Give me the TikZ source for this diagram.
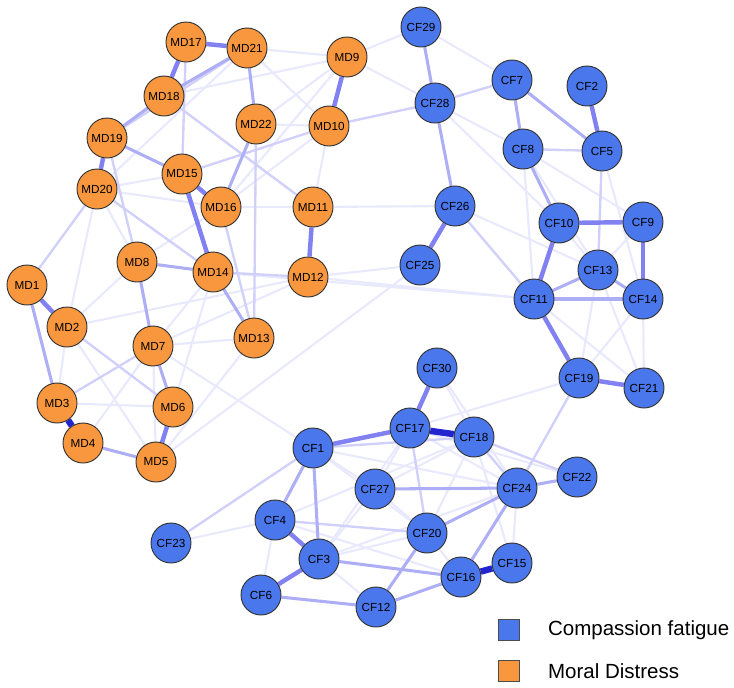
\documentclass[tikz,border=0pt]{standalone}
\usepackage{xcolor}
\usepackage{fontspec}
\setmainfont{Liberation Sans}
\usepackage{tikz}
\usetikzlibrary{positioning, backgrounds}
\definecolor{cfblue}{HTML}{4A78EC}
\definecolor{mdorange}{HTML}{F8973D}
\definecolor{edgeblue}{HTML}{6B6BEF}
\definecolor{edgedark}{HTML}{2323D0}

\begin{document}
\begin{tikzpicture}[
    x=0.03cm, y=-0.03cm,
    every node/.style={font=\fontsize{10}{12}\selectfont},
    itemnode/.style={circle, draw=black!80, fill=#1, line width=0.8pt, minimum size=1.2cm, inner sep=0pt},
    keybox/.style={rectangle, draw=black!70, fill=#1, line width=0.6pt, minimum size=0.63cm, inner sep=0pt},
    keytext/.style={inner sep=0pt, font=\fontsize{17.5}{20}\selectfont},
    wtop/.style={draw=edgedark, line width=5.5pt},
    wstrong/.style={draw=edgeblue!85, line width=3.8pt},
    wmid/.style={draw=edgeblue!55, line width=2.6pt},
    wlight/.style={draw=edgeblue!32, line width=2pt},
    wfaint/.style={draw=edgeblue!15, line width=1.8pt},
]
\useasboundingbox (0,0) rectangle (734,687);

% moral distress
\node[itemnode=mdorange] (MD17) at (186,42) {MD17};
\node[itemnode=mdorange] (MD21) at (247,48) {MD21};
\node[itemnode=mdorange] (MD9) at (347,57) {MD9};
\node[itemnode=mdorange] (MD18) at (164,96) {MD18};
\node[itemnode=mdorange] (MD22) at (256,124) {MD22};
\node[itemnode=mdorange] (MD10) at (329,126) {MD10};
\node[itemnode=mdorange] (MD19) at (107,138) {MD19};
\node[itemnode=mdorange] (MD15) at (182,174) {MD15};
\node[itemnode=mdorange] (MD20) at (97,189) {MD20};
\node[itemnode=mdorange] (MD16) at (221,207) {MD16};
\node[itemnode=mdorange] (MD11) at (313,207) {MD11};
\node[itemnode=mdorange] (MD8) at (137,262) {MD8};
\node[itemnode=mdorange] (MD14) at (213,272) {MD14};
\node[itemnode=mdorange] (MD12) at (308,277) {MD12};
\node[itemnode=mdorange] (MD1) at (27,285) {MD1};
\node[itemnode=mdorange] (MD2) at (67,327) {MD2};
\node[itemnode=mdorange] (MD7) at (153,346) {MD7};
\node[itemnode=mdorange] (MD13) at (254,338) {MD13};
\node[itemnode=mdorange] (MD3) at (57,403) {MD3};
\node[itemnode=mdorange] (MD6) at (173,407) {MD6};
\node[itemnode=mdorange] (MD4) at (83,443) {MD4};
\node[itemnode=mdorange] (MD5) at (156,462) {MD5};

% compassion fatigue
\node[itemnode=cfblue] (CF29) at (421,27) {CF29};
\node[itemnode=cfblue] (CF7) at (512,80) {CF7};
\node[itemnode=cfblue] (CF2) at (587,86) {CF2};
\node[itemnode=cfblue] (CF28) at (435,103) {CF28};
\node[itemnode=cfblue] (CF8) at (523,149) {CF8};
\node[itemnode=cfblue] (CF5) at (602,151) {CF5};
\node[itemnode=cfblue] (CF26) at (455,206) {CF26};
\node[itemnode=cfblue] (CF10) at (559,223) {CF10};
\node[itemnode=cfblue] (CF9) at (643,222) {CF9};
\node[itemnode=cfblue] (CF25) at (420,265) {CF25};
\node[itemnode=cfblue] (CF13) at (598,270) {CF13};
\node[itemnode=cfblue] (CF11) at (534,299) {CF11};
\node[itemnode=cfblue] (CF14) at (643,299) {CF14};
\node[itemnode=cfblue] (CF30) at (437,368) {CF30};
\node[itemnode=cfblue] (CF19) at (579,378) {CF19};
\node[itemnode=cfblue] (CF21) at (644,388) {CF21};
\node[itemnode=cfblue] (CF17) at (410,428) {CF17};
\node[itemnode=cfblue] (CF18) at (474,437) {CF18};
\node[itemnode=cfblue] (CF1) at (313,448) {CF1};
\node[itemnode=cfblue] (CF27) at (375,489) {CF27};
\node[itemnode=cfblue] (CF24) at (517,488) {CF24};
\node[itemnode=cfblue] (CF22) at (577,477) {CF22};
\node[itemnode=cfblue] (CF4) at (275,520) {CF4};
\node[itemnode=cfblue] (CF20) at (427,533) {CF20};
\node[itemnode=cfblue] (CF23) at (171,543) {CF23};
\node[itemnode=cfblue] (CF3) at (319,559) {CF3};
\node[itemnode=cfblue] (CF15) at (512,563) {CF15};
\node[itemnode=cfblue] (CF16) at (461,577) {CF16};
\node[itemnode=cfblue] (CF6) at (261,595) {CF6};
\node[itemnode=cfblue] (CF12) at (376,607) {CF12};

% legend
\node[keybox=cfblue] (keycf) at (509,630) {};
\node[keytext, right=0.84cm of keycf] (labcf) {Compassion fatigue};
\node[keybox=mdorange, below=0.57cm of keycf] (keymd) {};
\node[keytext, right=0.84cm of keymd] (labmd) {Moral Distress};

\begin{scope}[on background layer]
\foreach \a/\b in {MD21/MD9, MD21/MD10, MD9/MD22, MD9/MD18, MD9/MD16, MD10/MD16, MD10/MD11,
    MD10/MD22, MD15/MD20, MD20/MD16, MD20/MD2, MD8/MD16, MD2/MD3, MD2/MD5, MD2/MD12, MD7/MD5,
    MD7/MD14, MD7/MD12, MD7/MD13, MD7/CF1, MD7/MD4, MD3/MD6, MD5/MD13, MD6/MD14, MD12/CF11,
    MD12/CF25, MD11/CF26, MD5/CF25, MD21/MD20, MD11/MD16, MD8/MD20, MD8/MD2, MD14/CF11,
    CF29/MD9, CF28/MD9, CF29/CF7, CF28/CF10, CF28/CF8, CF26/CF13, CF8/CF11, CF8/CF9, CF8/CF13,
    CF5/CF14, CF10/CF13, CF9/CF13, CF13/CF19, CF14/CF21, CF13/CF21, CF11/CF21, CF14/CF19,
    CF19/CF17, CF30/CF24, CF30/CF18, CF1/CF27, CF1/CF20, CF1/CF24, CF17/CF27, CF17/CF24,
    CF17/CF3, CF18/CF27, CF18/CF20, CF18/CF15, CF18/CF4, CF27/CF3, CF27/CF20, CF24/CF15,
    CF24/CF3, CF20/CF16, CF20/CF3, CF4/CF16, CF3/CF12, CF6/CF4, CF23/CF4, CF17/CF22}
    \draw[wfaint] (\a) -- (\b);
\foreach \a/\b in {MD7/MD3, MD2/MD6, MD14/MD12, MD10/MD15, MD17/MD15, MD20/MD14, MD19/MD8,
    MD20/MD1, MD10/CF28, MD16/MD13, MD22/MD13, MD18/MD11, MD21/MD19, CF28/CF7, CF5/CF13,
    CF26/CF11, CF8/CF5, CF24/CF19, CF4/CF20, CF18/CF24, CF18/CF22, CF23/CF1, CF1/CF18,
    CF17/CF20}
    \draw[wlight] (\a) -- (\b);
\foreach \a/\b in {MD18/MD21, MD18/MD19, MD19/MD15, MD21/MD22, MD22/MD16, MD14/MD13, MD8/MD14,
    MD1/MD3, MD8/MD7, MD7/MD6, MD4/MD5, CF29/CF28, CF28/CF26, CF7/CF8, CF7/CF5, CF8/CF10,
    CF13/CF14, CF11/CF13, CF11/CF14, CF1/CF3, CF1/CF4, CF6/CF12, CF12/CF20, CF12/CF16,
    CF3/CF16, CF24/CF22, CF24/CF16, CF27/CF24, CF20/CF24}
    \draw[wmid] (\a) -- (\b);
\foreach \a/\b in {MD17/MD21, MD17/MD18, MD19/MD20, MD15/MD16, MD15/MD14, MD9/MD10, MD11/MD12,
    MD1/MD2, MD6/MD5, CF1/CF17, CF17/CF30, CF4/CF3, CF3/CF6, CF26/CF25, CF2/CF5, CF10/CF9,
    CF10/CF11, CF9/CF14, CF11/CF19, CF19/CF21}
    \draw[wstrong] (\a) -- (\b);
\foreach \a/\b in {MD3/MD4, CF17/CF18, CF16/CF15}
    \draw[wtop] (\a) -- (\b);
\end{scope}

\end{tikzpicture}
\end{document}
